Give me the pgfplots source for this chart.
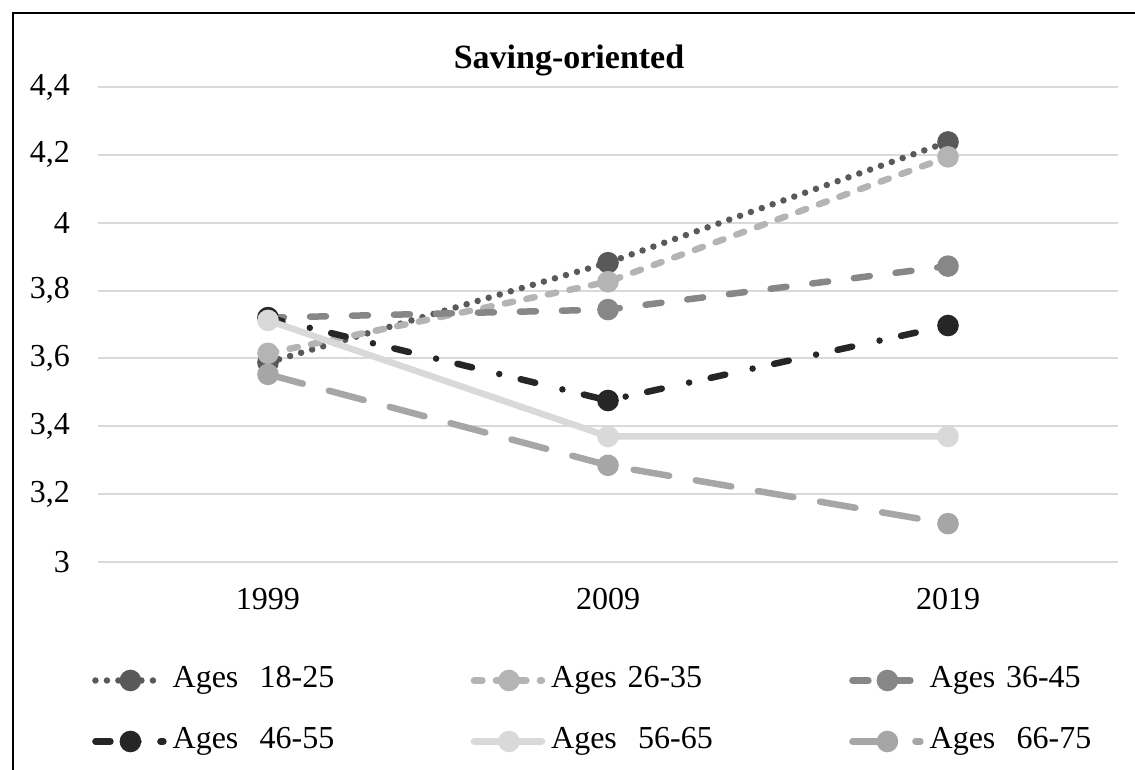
\documentclass[border=0pt]{standalone}
\usepackage{fontspec}
\setmainfont{Liberation Serif}
\usepackage{pgfplots}
\pgfplotsset{compat=1.18}

\definecolor{cA}{HTML}{595959}
\definecolor{cB}{HTML}{B4B4B4}
\definecolor{cC}{HTML}{878787}
\definecolor{cD}{HTML}{262626}
\definecolor{cE}{HTML}{D9D9D9}
\definecolor{cF}{HTML}{A6A6A6}
\definecolor{gridc}{HTML}{D9D9D9}

\newcommand{\chartfont}{\fontsize{32}{38}\selectfont}

\pgfplotsset{
    ser/.style={line width=6.5pt, line cap=round, mark=*, mark size=7.5pt, mark options={solid}},
}

\begin{document}
\begin{tikzpicture}
\useasboundingbox (0,0) rectangle (1135pt,770pt);
% chart frame (left and top edges visible)
\draw[black, line width=1.2pt] (13pt,0pt) -- (13pt,757pt) -- (1135pt,757pt);
\node[anchor=base, font=\fontsize{34}{40}\selectfont\bfseries] at (569pt,701pt) {Saving-oriented};

\begin{axis}[
    at={(98pt,208pt)}, anchor=south west,
    scale only axis,
    width=1020pt, height=475pt,
    xmin=-0.5, xmax=2.5,
    ymin=3, ymax=4.4,
    xtick={0,1,2},
    xticklabels={1999,2009,2019},
    ytick={3,3.2,3.4,3.6,3.8,4,4.2,4.4},
    /pgf/number format/use comma,
    /pgf/number format/assume math mode=true,
    axis line style={draw=none},
    major tick length=0pt,
    ymajorgrids,
    grid style={gridc, line width=2pt},
    tick label style={font=\chartfont},
    yticklabel style={inner sep=0pt, anchor=east, xshift=-28pt},
    xticklabel style={inner sep=0pt, anchor=north, yshift=-26pt},
    clip=false,
    legend columns=3,
    legend cell align=left,
    legend image code/.code={
        \draw[#1] (0pt,0pt) -- (68pt,0pt);
        \draw[#1] plot[only marks] coordinates {(35pt,0pt)};
    },
    legend style={
        at={(-0.0059,-0.2185)}, anchor=north west,
        draw=none, fill=none, inner sep=0pt,
        font=\chartfont,
        nodes={inner sep=0pt, text width=290pt, text height=22pt, text depth=7pt},
        /tikz/every odd column/.append style={column sep=6pt},
        /tikz/every even column/.append style={column sep=8pt},
        row sep=32pt,
    },
]
\addplot[ser, cA, dash pattern=on 0pt off 11.5pt] coordinates {(0,3.588) (1,3.882) (2,4.238)};
\addplot[ser, cB, dash pattern=on 8.5pt off 13.5pt] coordinates {(0,3.615) (1,3.826) (2,4.194)};
\addplot[ser, cC, dash pattern=on 16pt off 26pt] coordinates {(0,3.720) (1,3.744) (2,3.872)};
\addplot[ser, cD, dash pattern=on 15pt off 28pt on 0pt off 22pt] coordinates {(0,3.720) (1,3.476) (2,3.697)};
\addplot[ser, cE] coordinates {(0,3.712) (1,3.370) (2,3.370)};
\addplot[ser, cF, dash pattern=on 36pt off 27pt] coordinates {(0,3.553) (1,3.285) (2,3.113)};
\legend{Ages\ \ 18-25, Ages 26-35, Ages 36-45, Ages\ \ 46-55, Ages\ \ 56-65, Ages\ \ 66-75}
\end{axis}
\end{tikzpicture}
\end{document}
